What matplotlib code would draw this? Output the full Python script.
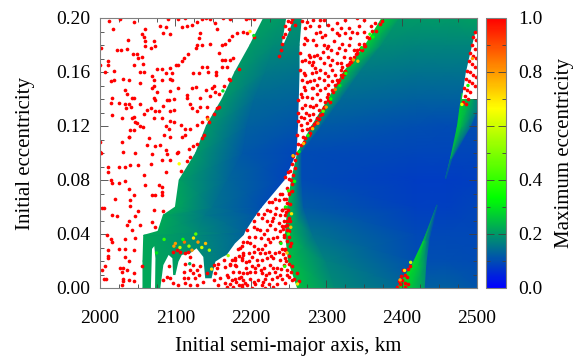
"""
Stability map: maximum eccentricity vs initial semi-major axis and eccentricity.
"""
import numpy as np
import matplotlib
matplotlib.use("Agg")
import matplotlib.pyplot as plt
from matplotlib.colors import LinearSegmentedColormap
from matplotlib.ticker import MultipleLocator

plt.rcParams['font.family'] = ['Liberation Serif', 'DejaVu Serif']

# left stable band, one row per eccentricity
band1_e = [0.00, 0.02, 0.039, 0.042, 0.054, 0.06, 0.08, 0.10, 0.12, 0.14, 0.16, 0.18, 0.20]
band1_a = [
    [2057, 2100, 2140], [2057, 2110, 2163], [2058, 2128, 2190], [2077, 2130, 2192], [2084, 2140, 2206],
    [2100, 2150, 2214], [2105, 2170, 2244], [2127, 2190, 2260], [2141, 2195, 2262],
    [2162, 2205, 2263], [2179, 2220, 2264], [2199, 2230, 2264], [2217, 2240, 2267],
]
band1_v = [
    [.22, .22, .18], [.22, .20, .16], [.22, .18, .13], [.22, .18, .13], [.22, .16, .115],
    [.22, .15, .105], [.21, .135, .09], [.20, .115, .09], [.20, .125, .11],
    [.20, .14, .13], [.20, .16, .15], [.20, .18, .175], [.21, .20, .19],
]

# right stable band
band2_e = [0.00, 0.02, 0.04, 0.06, 0.08, 0.10, 0.12, 0.14, 0.16, 0.18, 0.20]
band2_a = [
    [2262, 2312, 2420, 2460, 2500], [2250, 2300, 2420, 2460, 2500],
    [2246, 2282, 2420, 2460, 2500], [2249, 2270, 2420, 2460, 2500],
    [2254, 2268, 2420, 2460, 2500], [2262, 2268, 2420, 2460, 2500],
    [2281, 2294, 2420, 2460, 2500], [2303, 2320, 2420, 2460, 2500],
    [2323, 2345, 2420, 2460, 2500], [2352, 2374, 2420, 2460, 2500],
    [2374, 2398, 2430, 2465, 2500],
]
band2_v = [
    [.25, .18, .125, .125, .11], [.25, .17, .105, .105, .10],
    [.25, .15, .095, .095, .095], [.25, .12, .085, .085, .09],
    [.24, .10, .08, .08, .085], [.20, .10, .09, .09, .09],
    [.22, .12, .105, .10, .105], [.25, .14, .125, .125, .125],
    [.26, .16, .15, .15, .15], [.27, .18, .175, .175, .175],
    [.27, .20, .20, .20, .21],
]

# green wedges inside the right band
wedge_low_e = [0.0, 0.017, 0.035, 0.0615]
wedge_low_a = [[2394, 2412, 2430], [2414, 2423, 2432], [2429, 2432, 2436], [2447, 2447.3, 2447.6]]
wedge_low_v = [[.29, .26, .20], [.29, .25, .18], [.27, .21, .13], [.12, .10, .09]]

wedge_high_e = [0.081, 0.096, 0.1195, 0.132, 0.144]
wedge_high_a = [[2458, 2458.5, 2459], [2465, 2466, 2467], [2474, 2480, 2491],
                [2477, 2487, 2500], [2480, 2490, 2500]]
wedge_high_v = [[.10, .09, .085], [.22, .18, .11], [.27, .23, .14], [.27, .23, .16], [.27, .24, .18]]

# unstable gaps cut out of the bands
gap_notch = [(2067.5, 0), (2068.5, .0195), (2069, .029), (2072, .031), (2073.5, .022), (2073, 0)]
gap_lower = [(2080, 0), (2084, .017), (2091, .0245), (2096, .022), (2097, .0096), (2100, .0096),
             (2104, .0195), (2108.5, .0245), (2119.5, .0257), (2128, .0294), (2137, .023),
             (2139.5, .0072), (2148, .0072), (2153, .0195), (2162.5, .023), (2168, .0245),
             (2179, .033), (2193, .0405), (2193, 0)]
gap_slit = [(2247, .2), (2257, .2), (2250, .189), (2243, .18), (2241, .18)]
gap_right = [(2485, .159), (2491, .174), (2498, .19), (2500, .19), (2500, .14), (2480, .14)]

# unstable particles, all at max eccentricity ~ 1
dots_upper_left = [
    (2012,.198),(2027,.199),(2017,.192),(2045,.197),(2060,.192),(2056,.188),(2058,.186),(2080,.194),
    (2087,.193),(2084,.189),(2093,.188),(2071,.183),(2060,.183),(2037,.184),(2073,.179),(2068,.178),
    (2060,.179),(2022,.176),(2028,.176),(2036,.177),(2001,.178),(2051,.170),(2056,.171),(2044,.173),
    (2049,.173),(2010,.168),(2011,.165),(2000,.165),(2006,.160),(2018,.161),(2014,.153),(2018,.154),
    (2030,.155),(2039,.154),(2053,.152),(2045,.165),(2057,.166),(2059,.160),(2053,.160),(2076,.162),
    (2082,.162),(2087,.159),(2069,.157),(2071,.154),(2071,.150),(2069,.148),(2082,.154),(2093,.163),
    (2095,.159),(2093,.155),(2095,.154),(2104,.165),(2101,.165),(2109,.168),(2112,.170),(2117,.173),
    (2127,.178),(2129,.180),(2135,.180),(2132,.189),(2131,.185),(2146,.181),(2158,.174),(2162,.180),
    (2166,.181),(2171,.184),(2175,.187),(2182,.189),(2189,.190),(2195,.189),(2204,.186),(2109,.193),
    (2115,.194),(2122,.195),(2129,.197),(2135,.199),(2140,.200),(2146,.199),(2152,.196),(2155,.192),
    (2163,.200),(2173,.199),(2193,.199),(2197,.200),(2204,.199),(2113,.200),(2103,.199),(2090,.199),
    (2124,.159),(2131,.159),(2135,.164),(2142,.164),(2143,.160),(2154,.160),(2154,.158),(2162,.169),
    (2166,.169),(2173,.169),(2162,.164),(2169,.164),(2177,.170),(2184,.162),(2171,.155),(2173,.154),
    (2164,.150),(2151,.150),(2149,.148),(2153,.145),(2158,.144),(2146,.142),(2140,.147),(2133,.141),
    (2127,.149),(2115,.143),(2115,.141),(2122,.148),(2104,.148),(2093,.146),(2076,.145),(2071,.141),
    (2073,.139),(2045,.141),(2042,.141),(2033,.147),(2036,.144),(2016,.141),(2014,.137),(2025,.137),
    (2033,.136),(2035,.133),(2039,.136),(2041,.134),(2053,.136),(2062,.132),(2067,.133),(2073,.131),
    (2084,.135),(2089,.139),(2091,.139),(2098,.140),(2098,.132),(2093,.131),(2120,.136),(2122,.133),
    (2133,.134),(2129,.131),(2142,.134),(2151,.129),(2158,.134),(2155,.133),(2142,.127),
    (2144,.123),(2138,.113),(2135,.111),(2129,.107),(2124,.105),(2118,.103),(2109,.112),(2113,.118),
    (2120,.118),(2129,.121),(2135,.123),(2107,.121),(2087,.120),(2091,.118),(2082,.126),(2078,.131),
    (2093,.124),(2098,.123),(2071,.126),(2058,.129),(2045,.127),(2042,.126),(2047,.123),(2049,.122),
    (2053,.120),(2057,.119),(2029,.126),(2016,.128),(2040,.117),(2045,.117),(2039,.112),(2038,.112),
    (2029,.108),(2000,.108),(2001,.100),(2065,.111),(2062,.106),(2073,.105),(2080,.106),(2088,.102),
    (2103,.101),(2085,.113),(2093,.112),(2113,.113),
]
dots_lower_left = [
    (2000,.101),(2031,.101),(2047,.100),(2069,.099),(2089,.099),(2102,.100),(2093,.095),(2115,.094),
    (2120,.097),(2082,.095),(2067,.092),(2040,.091),(2051,.091),(2011,.090),(2025,.090),(2033,.090),
    (2011,.086),(2087,.086),(2107,.087),(2078,.076),(2082,.075),(2025,.078),(2016,.078),(2033,.079),
    (2014,.080),(2058,.084),(2060,.076),(2038,.073),(2082,.071),(2069,.069),(2073,.069),(2082,.069),
    (2045,.069),(2020,.066),(2040,.065),(2040,.061),(2002,.059),(2005,.059),(2071,.058),(2051,.057),
    (2016,.054),(2022,.053),(2047,.053),(2038,.050),(2036,.047),(2042,.043),(2069,.049),(2084,.057),
    (2053,.047),(2073,.045),(2009,.039),(2014,.036),(2016,.034),(2033,.036),(2047,.037),(2025,.029),
    (2033,.029),(2045,.028),(2011,.028),(2011,.024),(2033,.023),(2011,.022),(2038,.020),(2007,.016),
    (2002,.013),(2027,.015),(2031,.015),(2036,.013),(2029,.012),(2045,.011),(2056,.016),(2005,.007),
    (2008,.007),(2031,.007),(2031,.005),(2029,.002),(2038,.006),(2045,.005),
]
dots_under_band1 = [
    (2097,.027),(2102,.028),(2106,.027),(2117,.027),(2113,.026),(2120,.023),(2113,.018),(2111,.012),
    (2120,.013),(2128,.013),(2124,.011),(2131,.0096),(2133,.016),(2124,.017),(2117,.0072),(2126,.0072),
    (2111,.0072),(2113,.0035),(2120,.0022),(2128,.0022),(2137,.0047),(2142,.0109),(2155,.0146),
    (2166,.0158),(2151,.006),(2159,.0072),(2168,.0096),(2177,.012),(2157,.002),(2166,.0035),(2175,.006),
    (2184,.0072),(2190,.0109),(2177,.001),(2188,.002),(2093,.0072),(2097,.0035),(2089,.0084),(2104,.002),
    (2091,.016),(2084,.006),(2179,.022),(2186,.0294),(2188,.022),(2179,.017),(2190,.0245),(2173,.018),
    (2164,.021),(2157,.018),(2151,.017),(2153,.011),(2239,.070),(2244,.066),(2237,.065),(2232,.066),
    (2248,.063),(2228,.064),(2224,.064),(2221,.058),(2226,.057),(2232,.055),(2239,.054),(2244,.050),
    (2248,.050),(2210,.055),(2217,.055),(2215,.052),(2221,.050),(2228,.050),(2230,.052),(2204,.050),
    (2204,.045),(2208,.044),(2212,.043),(2221,.043),(2232,.044),(2237,.048),(2239,.042),(2244,.038),
    (2248,.043),(2252,.050),(2195,.043),(2197,.038),(2190,.034),(2195,.034),(2188,.031),(2199,.033),
    (2204,.031),(2210,.029),(2215,.029),(2219,.032),(2226,.034),(2230,.037),(2239,.034),(2241,.029),
    (2246,.029),(2184,.024),(2190,.026),(2197,.026),(2204,.027),(2212,.026),(2219,.026),(2224,.027),
    (2232,.026),(2237,.027),(2175,.021),(2179,.021),(2188,.021),(2197,.020),(2208,.021),(2215,.021),
    (2221,.022),(2230,.022),(2239,.021),(2246,.022),(2173,.017),(2181,.016),(2193,.015),(2201,.016),
    (2210,.017),(2217,.015),(2226,.017),(2235,.015),(2244,.017),(2184,.012),(2195,.011),(2206,.012),
    (2215,.011),(2224,.011),(2232,.012),(2239,.010),(2248,.013),(2170,.008),(2179,.007),(2190,.006),
    (2199,.007),(2210,.006),(2219,.007),(2228,.007),(2241,.007),(2250,.008),(2173,.003),(2184,.002),
    (2195,.002),(2206,.003),(2215,.002),(2224,.003),(2235,.003),(2255,.006),(2168,.001),(2188,.001),
    (2201,.000),(2219,.000),(2230,.001),(2213,.037),(2218,.040),(2225,.047),(2234,.059),(2242,.058),
    (2247,.056),(2206,.038),(2223,.036),(2235,.038),(2242,.046),(2201,.023),(2227,.024),(2243,.025),
    (2183,.029),(2193,.019),(2205,.0145),(2213,.0135),(2229,.0145),(2240,.014),(2199,.0115),(2220,.0095),
    (2187,.0085),(2235,.0085),(2204,.0045),(2246,.004),(2192,.0035),(2216,.0045),(2181,.0045),(2250,.018),
    (2253,.033),(2250,.038),(2248,.047),(2246,.059),(2250,.071),
]
dots_band2_edge = [
    (2247,.020),(2250,.024),(2246,.028),(2252,.031),(2248,.035),(2244,.039),(2251,.042),(2246,.046),
    (2250,.052),(2245,.054),(2249,.058),(2252,.062),(2247,.066),(2251,.070),(2248,.074),(2254,.077),
    (2250,.081),(2256,.084),(2252,.087),(2258,.089),(2254,.092),(2259,.095),(2256,.098),(2261,.100),
    (2253,.012),(2248,.010),(2257,.007),(2264,.005),(2261,.011),(2255,.016),(2243,.044),(2241,.058),
    (2242,.070),(2245,.082),(2249,.086),(2253,.080),(2255,.072),
]
dots_triangle = [
    (2274.5,.197),(2279,.194),(2272,.1924),(2290,.194),(2292,.190),(2286,.189),(2303,.195),(2314,.196),
    (2319,.1924),(2314,.1887),(2317,.1875),(2330,.1924),(2325.5,.1887),(2334,.190),(2343,.194),(2341,.1887),
    (2332,.185),(2350,.190),(2359,.194),(2354,.186),(2272,.185),(2274.5,.184),(2270,.181),(2294,.186),
    (2299,.1875),(2297,.180),(2301,.178),(2303,.179),(2310,.183),(2321,.181),(2317,.178),(2330,.180),
    (2325.5,.1764),(2336.5,.1764),(2343,.181),(2347.6,.1764),(2265.6,.174),(2277,.1727),(2279,.1714),
    (2288,.1727),(2272,.169),(2277,.1677),(2283,.1677),(2292,.170),(2303,.1714),(2314,.174),(2323,.1714),
    (2332,.170),(2341,.174),(2350,.179),(2265.6,.1615),(2270,.159),(2281,.1653),(2285.6,.1628),(2297,.1665),
    (2292,.1615),(2305.5,.1653),(2308,.1615),(2314,.1665),(2321,.164),(2332,.1677),(2336.5,.1714),
    (2327.7,.1653),(2272,.158),(2281,.159),(2290,.1554),(2299,.159),(2312,.158),(2319,.1615),(2325.5,.1603),
    (2268,.154),(2279,.153),(2288,.1504),(2297,.154),(2303,.1504),(2308,.153),(2317,.154),(2321,.1566),
    (2270,.149),(2281,.1485),(2312,.1504),(2283,.1986),(2292,.1986),(2325.5,.1986),(2341,.200),(2350,.1986),
    (2365,.196),(2374,.198),(2350,.181),(2352,.179),(2341,.176),(2339,.173),(2334,.169),(2330,.166),
    (2325.5,.161),(2319,.158),(2314,.154),(2272,.1467),(2283,.148),(2288,.144),(2299,.148),(2308,.1467),
    (2303,.144),(2266,.144),(2263,.139),(2274.5,.1418),(2281,.1405),(2292,.139),(2299,.138),(2301,.1418),
    (2268,.133),(2272,.1356),(2286,.1356),(2297,.134),(2305.5,.138),(2290,.132),(2283,.129),(2292,.128),
    (2277,.128),(2266,.127),(2270,.1257),(2279,.1245),(2288,.1257),(2294,.129),(2286,.123),(2274.5,.122),
    (2266,.1208),(2281,.1195),(2274.5,.118),(2268,.117),(2279,.1146),(2272,.111),(2277,.113),(2263,.107),
    (2266,.106),(2270,.1084),(2261,.113),(2284,.1215),(2290,.1255),(2296,.1325),(2302,.139),(2309,.1455),
    (2316,.1515),(2324,.1585),(2333,.1675),(2345,.177),(2357,.185),(2361,.1905),(2366,.1905),(2372,.1955),
    (2268,.198),(2297,.1985),(2308,.1915),(2282,.184),(2287,.180),(2307,.176),(2284,.172),(2296,.175),
    (2268,.168),(2308,.169),(2319,.167),(2287,.160),(2303,.157),(2275,.1525),(2292,.1465),(2284,.154),
    (2268,.1415),(2278,.135),(2262,.130),(2283,.134),(2273,.130),(2263,.124),(2279,.1185),(2269,.112),
]
dots_band1_slit = [
    (2249,.198),(2253,.197),(2246,.194),(2250,.192),(2243,.186),(2246,.188),(2241,.181),(2258,.195),
    (2254,.199),(2240,.176),(2237,.172),
]
dots_wedge_low = [
    (2394,.001),(2398,.003),(2396,.005),(2401,.006),(2399,.009),(2404,.004),(2404,.010),(2407,.008),
    (2402,.013),(2408,.014),(2411,.016),(2405,.001),(2409,.003),
]
dots_wedge_high = [
    (2498,.190),(2495,.186),(2499,.184),(2493,.180),(2497,.177),(2491,.174),(2495,.172),(2499,.170),
    (2489,.168),(2493,.166),(2497,.164),(2487,.161),(2491,.160),(2495,.158),(2499,.156),(2485,.155),
    (2489,.153),(2493,.152),(2497,.150),(2483,.148),(2487,.147),(2491,.145),(2484,.142),(2488,.140),
    (2481,.138),(2485,.136),
]

# particles near the band edges with other colours
edge_a = [2204, 2199, 2163, 2143, 2105, 2085, 2075, 2119, 2148, 2170, 2250, 2256, 2300, 2318,
          2342, 2362, 2282, 2398, 2404, 2412, 2480, 2488, 2494, 2245, 2262, 2253, 2246, 2240,
          2100, 2106, 2112, 2118, 2124, 2130, 2135, 2140, 2127, 2122, 2145, 2110, 2098,
          2296, 2306, 2312, 2326, 2336, 2347, 2358, 2276, 2270, 2264, 2289, 2250, 2254, 2258, 2248]
edge_e = [.187, .19, .146, .125, .092, .036, .026, .018, .014, .024, .072, .098, .134, .150,
          .168, .186, .118, .006, .013, .019, .136, .150, .170, .016, .003, .045, .060, .033,
          .033, .030, .034, .031, .037, .034, .030, .033, .040, .028, .028, .036, .031,
          .131, .140, .147, .159, .169, .178, .188, .113, .107, .101, .122, .040, .055, .079, .026]
edge_v = [.30, .70, .30, .80, .66, .40, .30, .22, .70, .55, .40, .75, .80, .30,
          .75, .33, .75, .80, .70, .60, .65, .35, .80, .40, .70, .75, .35, .33,
          .80, .60, .85, .55, .70, .80, .60, .75, .45, .80, .55, .35, .80,
          .45, .35, .85, .35, .80, .30, .40, .35, .75, .30, .85, .40, .70, .35, .75]

cmap = LinearSegmentedColormap.from_list("bgyr", ['#0000ff', '#00ff00', '#ffff00', '#ff0000'])


def draw_band(ax, e_rows, a_rows, v_rows):
    """Gouraud shaded strip with one row of positions per eccentricity."""
    a_grid = np.array(a_rows, dtype=float)
    e_grid = np.repeat(np.array(e_rows)[:, None], a_grid.shape[1], axis=1)
    return ax.pcolormesh(a_grid, e_grid, np.array(v_rows), shading='gouraud',
                         cmap=cmap, vmin=0, vmax=1, zorder=1)


fig = plt.figure(figsize=(5.76, 3.58), dpi=100)
ax = fig.add_axes([100 / 576, 70 / 358, 377 / 576, 270 / 358])

mesh = draw_band(ax, band1_e, band1_a, band1_v)
draw_band(ax, band2_e, band2_a, band2_v)
draw_band(ax, wedge_low_e, wedge_low_a, wedge_low_v)
draw_band(ax, wedge_high_e, wedge_high_a, wedge_high_v)

for gap in [gap_notch, gap_lower, gap_slit, gap_right]:
    ax.fill(*zip(*gap), color='white', lw=0, zorder=2)

all_dots = (dots_upper_left + dots_lower_left + dots_under_band1 + dots_band2_edge
            + dots_triangle + dots_band1_slit + dots_wedge_low + dots_wedge_high)
dot_a, dot_e = zip(*all_dots)
ax.scatter(dot_a, dot_e, s=7, color='#ff0000', linewidths=0, zorder=3)
ax.scatter(edge_a, edge_e, s=6, c=edge_v, cmap=cmap, vmin=0, vmax=1, linewidths=0, zorder=4)

ax.set_xlim(2000, 2500)
ax.set_ylim(0, 0.2)
ax.xaxis.set_major_locator(MultipleLocator(100))
ax.xaxis.set_minor_locator(MultipleLocator(25))
ax.yaxis.set_major_locator(MultipleLocator(0.04))
ax.yaxis.set_minor_locator(MultipleLocator(0.01))
ax.yaxis.set_major_formatter(lambda v, pos: f"{v:.2f}")
ax.tick_params(which='both', direction='in', top=True, right=True, color='#404040', width=0.6,
               labelsize=14)
ax.tick_params(axis='x', pad=16)
ax.tick_params(axis='y', pad=7)
ax.tick_params(which='major', length=5.5)
ax.tick_params(which='minor', length=3)
ax.set_xlabel("Initial semi-major axis, km", fontsize=15, labelpad=7)
ax.set_ylabel("Initial eccentricity", fontsize=15, labelpad=15)
for spine in ax.spines.values():
    spine.set_color('#808080')
    spine.set_linewidth(0.8)
    spine.set_zorder(6)

cax = fig.add_axes([486 / 576, 70 / 358, 19.5 / 576, 270 / 358])
cbar = fig.colorbar(mesh, cax=cax)
cbar.set_ticks(np.arange(0, 1.01, 0.2))
cbar.ax.yaxis.set_minor_locator(MultipleLocator(0.1))
cbar.ax.tick_params(which='both', direction='in', left=True, right=True, color='#404040',
                    width=0.6, labelsize=14, pad=9)
cbar.ax.tick_params(which='major', length=5.5)
cbar.ax.tick_params(which='minor', length=3)
cbar.set_label("Maximum eccentricity", fontsize=15, labelpad=9)
cbar.outline.set_edgecolor('#808080')
cbar.outline.set_linewidth(0.8)

plt.savefig("out.png", dpi=100)
